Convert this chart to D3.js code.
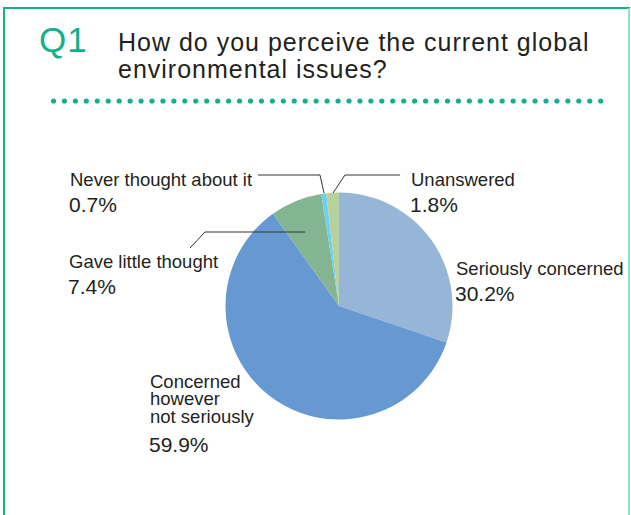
<!DOCTYPE html>
<html><head><meta charset="utf-8">
<script src="https://cdn.jsdelivr.net/npm/d3@7/dist/d3.min.js"></script>
<style>
html,body{margin:0;padding:0;background:#fff;}
svg{display:block;}
text{font-family:"Liberation Sans",Arial,sans-serif;fill:#231f20;}
</style></head>
<body>
<svg id="chart" width="631" height="515"></svg>
<script>
const categories = ["Seriously concerned","Concerned however not seriously","Gave little thought","Never thought about it","Unanswered"];
const values = [30.2, 59.9, 7.4, 0.7, 1.8];
const percentLabels = ["30.2%","59.9%","7.4%","0.7%","1.8%"];
const colors = ["#97b5d6","#6699d2","#84b593","#6ecff0","#b8d19a"];

const svg = d3.select("#chart");
const teal = "#14b08a";

// frame
svg.append("path").attr("d","M4,516 V8 H629 V516").attr("fill","none").attr("stroke",teal).attr("stroke-width",2);
svg.append("line").attr("x1",629).attr("x2",629).attr("y1",8).attr("y2",516).attr("stroke","#8fe0c8").attr("stroke-width",2);

// title
svg.append("text").attr("x",39).attr("y",52).text("Q1")
  .style("fill",teal).style("font-size","35px").style("letter-spacing","1px");
svg.append("text").attr("x",118).attr("y",51).text("How do you perceive the current global")
  .style("font-size","25px").style("letter-spacing","1px");
svg.append("text").attr("x",118).attr("y",78).text("environmental issues?")
  .style("font-size","25px").style("letter-spacing","1px");

// dotted line
const dotX = d3.scaleLinear().domain([0,50]).range([53.5,600.7]);
svg.append("g").selectAll("circle").data(d3.range(51)).join("circle")
  .attr("cx",d=>dotX(d)).attr("cy",101).attr("r",2.6).attr("fill",teal);

// pie
const cx = 339, cy = 306, R = 113.5;
const pie = d3.pie().sort(null).value(d=>d);
const arc = d3.arc().innerRadius(0).outerRadius(R);
const g = svg.append("g").attr("transform",`translate(${cx},${cy})`);
g.selectAll("path").data(pie(values)).join("path")
  .attr("d",arc).attr("fill",(d,i)=>colors[i]);

// leader lines
const lineStyle = s => s.attr("fill","none").attr("stroke","#333").attr("stroke-width",1);
svg.append("path").attr("d","M258,175 H320 L324,193").call(lineStyle);
svg.append("path").attr("d","M400,175 H345 L333,193").call(lineStyle);
svg.append("path").attr("d","M305,232 H205 L190,248").call(lineStyle);

// labels
function label(x, y, lines, pct, ls, off){
  lines.forEach((l,i)=>svg.append("text").attr("x",x).attr("y",y+i*ls).text(l).style("font-size","18.5px"));
  svg.append("text").attr("x",x-1).attr("y",y+(lines.length-1)*ls+off).text(pct).style("font-size","21px");
}
label(70,186,["Never thought about it"],percentLabels[3],17,26);
label(411,186,["Unanswered"],percentLabels[4],17,26);
label(456,275,["Seriously concerned"],percentLabels[0],17,26);
label(69,268,["Gave little thought"],percentLabels[2],17,26);
label(150,388,["Concerned","however","not seriously"],percentLabels[1],17.3,29);
</script>
</body></html>
